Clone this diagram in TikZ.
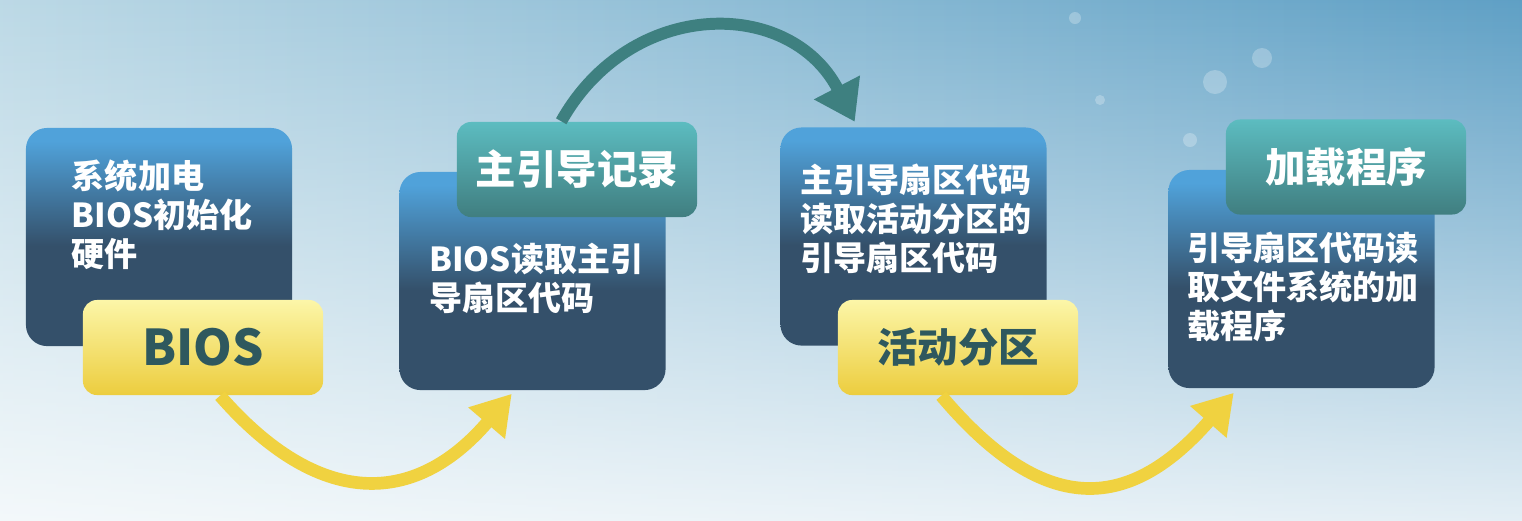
\documentclass[tikz,border=0pt]{standalone}
\usepackage{fontspec}
\setmainfont{Noto Sans CJK SC}
\usetikzlibrary{arrows.meta,calc,fadings}

\definecolor{bgleft}{RGB}{188,217,230}
\definecolor{bgright}{RGB}{92,158,196}
\definecolor{boxtop}{RGB}{80,162,218}
\definecolor{boxdark}{RGB}{52,80,106}
\definecolor{ytop}{RGB}{252,246,168}
\definecolor{ymid}{RGB}{246,232,120}
\definecolor{ybot}{RGB}{236,205,62}
\definecolor{gtop}{RGB}{92,188,192}
\definecolor{gbot}{RGB}{64,126,128}
\definecolor{tagtext}{RGB}{46,88,94}
\definecolor{yline}{RGB}{240,210,64}
\definecolor{gline}{RGB}{62,128,128}

\tikzfading[name=fadeup, top color=transparent!100, bottom color=transparent!0]
\pgfdeclareverticalshading{boxshade}{100bp}{color(0bp)=(boxdark); color(25bp)=(boxdark);
  color(48bp)=(boxdark); color(72bp)=(boxtop); color(100bp)=(boxtop)}

\tikzset{
  stepbox/.style={rounded corners=6pt, inner sep=0pt, minimum width=2.66cm, minimum height=2.18cm,
    shading=boxshade},
  bodytext/.style={anchor=north west, inner sep=0pt, align=left, text=white,
    font=\bfseries\fontsize{9.4}{11.1}\selectfont},
  ytag/.style={rounded corners=4pt, inner sep=0pt, minimum width=2.40cm, minimum height=0.95cm,
    top color=ytop, middle color=ymid, bottom color=ybot, text=tagtext,
    font=\bfseries\fontsize{11.5}{13}\selectfont},
  gtag/.style={rounded corners=4pt, inner sep=0pt, minimum width=2.40cm, minimum height=0.95cm,
    top color=gtop, bottom color=gbot, text=white,
    font=\bfseries\fontsize{11.5}{13}\selectfont},
  yarrow/.style={draw=yline, line width=3.6pt, -{Triangle[length=11pt,width=13pt]}},
  garrow/.style={draw=gline, line width=3.4pt, -{Triangle[length=11pt,width=14pt]}}
}

\begin{document}
\begin{tikzpicture}[x=0.01cm,y=-0.01cm]
\useasboundingbox (0,0) rectangle (1522,520);
% background
\fill[left color=bgleft, right color=bgright] (-10,-10) rectangle (1532,530);
\fill[white, path fading=fadeup, opacity=.85] (-10,-10) rectangle (1532,530);
\foreach \cx/\cy/\r in {1215/82/.12, 1262/58/.1, 1075/18/.06, 1100/100/.05, 1190/140/.07}
  \fill[white, opacity=.25] (\cx,\cy) circle (\r cm);

% step 1
\node[stepbox] (box1) at (159,237) {};
\node[bodytext] (txt1) at ($(box1.north west)+(46,32)$) {系统加电\\BIOS初始化\\硬件};
\node[ytag, font=\bfseries\fontsize{14}{16}\selectfont] (tag1) at (203,347.5) {BIOS};

% step 2
\node[stepbox] (box2) at (532.5,281) {};
\node[bodytext] (txt2) at ($(box2.north west)+(30,71)$) {BIOS读取主引\\导扇区代码};
\node[gtag] (tag2) at (577,169.5) {主引导记录};

% step 3
\node[stepbox] (box3) at (913.5,236.5) {};
\node[bodytext] (txt3) at ($(box3.north west)+(20,36)$) {主引导扇区代码\\读取活动分区的\\引导扇区代码};
\node[ytag] (tag3) at (958,347.5) {活动分区};

% step 4
\node[stepbox] (box4) at (1301.5,279) {};
\node[bodytext] (txt4) at ($(box4.north west)+(19,62)$) {引导扇区代码读\\取文件系统的加\\载程序};
\node[gtag] (tag4) at (1346,167) {加载程序};

% arrows
\draw[yarrow] ($(tag1.south)+(17,0)$) .. controls (318,508) and (414,508) .. ($(box2.south west)+(113,3)$);
\draw[garrow] ($(tag2.north west)+(105,0)$) .. controls (631,-3) and (790,-3) .. ($(box3.north west)+(75,-5)$);
\draw[yarrow] ($(tag3.south west)+(104,0)$) .. controls (1042,515) and (1127,515) .. ($(box4.south west)+(66,4)$);
\end{tikzpicture}
\end{document}
